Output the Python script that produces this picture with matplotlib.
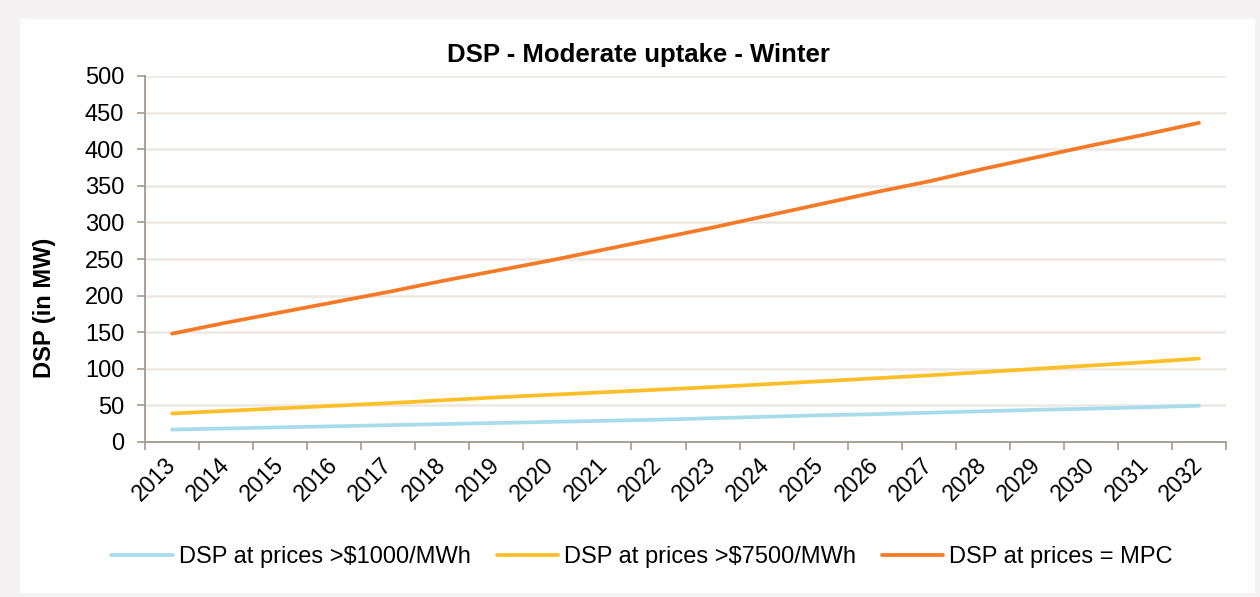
"""
DSP - Moderate uptake - Winter
重繪：三條 DSP 預測線 (2013-2032)
"""
import numpy as np
import matplotlib
matplotlib.use('Agg')
import matplotlib.pyplot as plt
from matplotlib.patches import Rectangle

# ==========================================
# 資料
# ==========================================
YEARS = [str(y) for y in range(2013, 2033)]

DSP_1000 = [17, 18.5, 20, 21.5, 23, 24.5, 26, 27.5, 29, 30.5,
            32.5, 34.5, 36.5, 38, 40, 42, 44, 45.5, 47.5, 49.5]
DSP_7500 = [39, 42.5, 46, 49.5, 53, 57, 61, 64.5, 68, 71.5,
            75, 79, 83, 87, 91, 95.5, 100, 104.5, 109, 114]
DSP_MPC  = [148, 163, 177, 191, 205, 220, 234, 248, 263, 278,
            293, 309, 325, 341, 356, 373, 389, 405, 420, 436]

LABELS = ['DSP at prices >$1000/MWh', 'DSP at prices >$7500/MWh', 'DSP at prices = MPC']
COLORS = ['#A9DCEB', '#FDBF28', '#F47A28']

# ==========================================
# 繪圖
# ==========================================
plt.rcParams['font.family'] = ['Liberation Sans', 'DejaVu Sans']

W, H, DPI = 1260, 597, 100
fig = plt.figure(figsize=(W / DPI, H / DPI), dpi=DPI, facecolor='#F4F2F2')
fig.patches.append(Rectangle((20 / W, 1 - 593 / H), 1235 / W, 574 / H,
                             transform=fig.transFigure, facecolor='white',
                             edgecolor='none', zorder=-10))

ax = fig.add_axes([145 / W, 1 - 442 / H, 1081 / W, 366 / H])
ax.set_facecolor('none')

x = np.arange(len(YEARS))
for vals, lab, col in zip([DSP_1000, DSP_7500, DSP_MPC], LABELS, COLORS):
    ax.plot(x, vals, color=col, lw=2.7, label=lab, solid_capstyle='round', zorder=3)

ax.set_xlim(-0.5, len(YEARS) - 0.5)
ax.set_ylim(0, 500)
ax.set_yticks(np.arange(0, 501, 50))
ax.yaxis.grid(True, color='#ECE8E4', lw=1.8)
ax.set_axisbelow(True)

# 類別刻度：標籤放中心，刻度線放邊界
ax.set_xticks(x)
ax.set_xticklabels(YEARS, rotation=45, ha='right', va='center',
                   rotation_mode='anchor', fontsize=16.5)
ax.set_xticks(np.arange(-0.5, len(YEARS)), minor=True)
ax.tick_params(axis='x', which='major', length=0, pad=14)
ax.tick_params(axis='x', which='minor', length=6, width=1.2, color='#A39A8C')
ax.tick_params(axis='y', length=6, width=1.2, color='#A39A8C', labelsize=17, pad=9)

for s in ['top', 'right']:
    ax.spines[s].set_visible(False)
for s in ['left', 'bottom']:
    ax.spines[s].set_color('#A39A8C')
    ax.spines[s].set_linewidth(1.3)

fig.text(638 / W, 1 - 55 / H, 'DSP - Moderate uptake - Winter',
         ha='center', va='center', fontsize=18.5, fontweight='bold')
fig.text(45 / W, 1 - 308 / H, 'DSP (in MW)', rotation=90,
         ha='center', va='center', fontsize=17, fontweight='bold')

fig.legend(loc='center', bbox_to_anchor=(642 / W, 1 - 557 / H), ncol=3,
           frameon=False, fontsize=17, handlelength=2.6, handletextpad=0.25,
           columnspacing=1.1)

fig.savefig('out.png', dpi=DPI, facecolor=fig.get_facecolor())
